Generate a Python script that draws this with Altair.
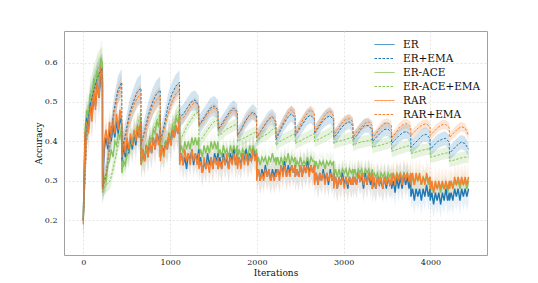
import altair as alt
import pandas as pd

TASK_LEN = 222
EMA_OFFSETS = [0, 44, 88, 133, 177, 221]
RAW_OFFSETS = [0, 20, 40, 60, 80, 100, 121, 141, 161, 181, 201, 221]

SERIES = ["ER", "ER+EMA", "ER-ACE", "ER-ACE+EMA", "RAR", "RAR+EMA"]
COLORS = ["#1f77b4", "#1f77b4", "#86c35a", "#86c35a", "#f77f2e", "#f77f2e"]
DASHES = [[1, 0], [2.5, 1.5], [1, 0], [2.5, 1.5], [1, 0], [2.5, 1.5]]

# ---- raw accuracy (12 readings per task, 20 tasks) ----
er_raw = [
    [0.20, 0.40, 0.46, 0.43, 0.50, 0.46, 0.52, 0.49, 0.55, 0.51, 0.57, 0.56],
    [0.28, 0.38, 0.41, 0.38, 0.43, 0.40, 0.44, 0.41, 0.45, 0.42, 0.46, 0.44],
    [0.35, 0.39, 0.36, 0.40, 0.37, 0.41, 0.38, 0.42, 0.39, 0.43, 0.41, 0.45],
    [0.35, 0.38, 0.35, 0.39, 0.36, 0.40, 0.37, 0.41, 0.38, 0.42, 0.40, 0.43],
    [0.36, 0.39, 0.37, 0.40, 0.38, 0.42, 0.39, 0.43, 0.41, 0.44, 0.42, 0.45],
    [0.35, 0.37, 0.34, 0.36, 0.33, 0.37, 0.35, 0.38, 0.34, 0.37, 0.35, 0.38],
    [0.34, 0.36, 0.32, 0.35, 0.33, 0.37, 0.34, 0.36, 0.33, 0.37, 0.35, 0.37],
    [0.33, 0.36, 0.33, 0.37, 0.34, 0.36, 0.33, 0.37, 0.35, 0.38, 0.34, 0.37],
    [0.34, 0.36, 0.34, 0.37, 0.35, 0.38, 0.34, 0.37, 0.35, 0.38, 0.36, 0.37],
    [0.31, 0.33, 0.30, 0.33, 0.31, 0.34, 0.31, 0.33, 0.30, 0.33, 0.31, 0.33],
    [0.31, 0.33, 0.31, 0.34, 0.32, 0.35, 0.31, 0.34, 0.32, 0.34, 0.32, 0.34],
    [0.31, 0.33, 0.31, 0.34, 0.31, 0.34, 0.32, 0.35, 0.32, 0.34, 0.32, 0.34],
    [0.30, 0.32, 0.29, 0.32, 0.30, 0.33, 0.30, 0.32, 0.29, 0.33, 0.30, 0.32],
    [0.29, 0.31, 0.28, 0.31, 0.29, 0.32, 0.29, 0.31, 0.28, 0.31, 0.29, 0.31],
    [0.29, 0.31, 0.29, 0.32, 0.30, 0.31, 0.28, 0.32, 0.29, 0.32, 0.29, 0.31],
    [0.28, 0.30, 0.28, 0.31, 0.29, 0.30, 0.28, 0.31, 0.28, 0.31, 0.29, 0.30],
    [0.28, 0.30, 0.27, 0.31, 0.28, 0.31, 0.28, 0.32, 0.29, 0.31, 0.28, 0.31],
    [0.26, 0.28, 0.25, 0.28, 0.26, 0.28, 0.25, 0.28, 0.26, 0.29, 0.26, 0.28],
    [0.25, 0.27, 0.24, 0.27, 0.25, 0.27, 0.24, 0.27, 0.25, 0.28, 0.25, 0.27],
    [0.25, 0.27, 0.25, 0.28, 0.26, 0.28, 0.25, 0.28, 0.26, 0.28, 0.26, 0.28],
]
erace_raw = [
    [0.20, 0.43, 0.48, 0.46, 0.52, 0.50, 0.56, 0.53, 0.58, 0.56, 0.61, 0.60],
    [0.27, 0.31, 0.30, 0.34, 0.35, 0.38, 0.36, 0.40, 0.39, 0.42, 0.41, 0.44],
    [0.32, 0.35, 0.34, 0.37, 0.37, 0.40, 0.39, 0.42, 0.41, 0.44, 0.43, 0.46],
    [0.34, 0.36, 0.36, 0.39, 0.38, 0.41, 0.40, 0.43, 0.42, 0.45, 0.44, 0.47],
    [0.36, 0.38, 0.37, 0.40, 0.39, 0.42, 0.41, 0.44, 0.43, 0.46, 0.45, 0.47],
    [0.37, 0.39, 0.37, 0.40, 0.38, 0.40, 0.38, 0.41, 0.39, 0.41, 0.39, 0.41],
    [0.36, 0.38, 0.36, 0.39, 0.37, 0.39, 0.37, 0.40, 0.38, 0.40, 0.38, 0.40],
    [0.36, 0.38, 0.36, 0.39, 0.37, 0.38, 0.36, 0.39, 0.37, 0.39, 0.37, 0.39],
    [0.36, 0.38, 0.36, 0.38, 0.37, 0.38, 0.36, 0.39, 0.37, 0.39, 0.37, 0.38],
    [0.34, 0.36, 0.34, 0.36, 0.35, 0.36, 0.34, 0.36, 0.35, 0.37, 0.35, 0.36],
    [0.34, 0.36, 0.34, 0.36, 0.34, 0.36, 0.35, 0.37, 0.34, 0.36, 0.35, 0.36],
    [0.33, 0.35, 0.34, 0.36, 0.34, 0.35, 0.34, 0.36, 0.34, 0.36, 0.35, 0.35],
    [0.33, 0.35, 0.33, 0.35, 0.34, 0.35, 0.33, 0.35, 0.34, 0.35, 0.34, 0.35],
    [0.31, 0.33, 0.31, 0.33, 0.31, 0.33, 0.32, 0.33, 0.31, 0.33, 0.32, 0.33],
    [0.31, 0.33, 0.31, 0.33, 0.32, 0.33, 0.31, 0.33, 0.32, 0.33, 0.31, 0.33],
    [0.30, 0.32, 0.31, 0.32, 0.30, 0.32, 0.31, 0.32, 0.30, 0.32, 0.31, 0.32],
    [0.30, 0.32, 0.30, 0.32, 0.31, 0.32, 0.30, 0.32, 0.31, 0.32, 0.30, 0.32],
    [0.29, 0.31, 0.29, 0.31, 0.30, 0.31, 0.29, 0.31, 0.30, 0.31, 0.29, 0.31],
    [0.27, 0.29, 0.27, 0.29, 0.28, 0.29, 0.27, 0.29, 0.28, 0.29, 0.27, 0.29],
    [0.28, 0.30, 0.28, 0.30, 0.29, 0.30, 0.28, 0.30, 0.29, 0.30, 0.28, 0.30],
]
rar_raw = [
    [0.19, 0.42, 0.45, 0.42, 0.49, 0.45, 0.53, 0.48, 0.55, 0.51, 0.59, 0.55],
    [0.29, 0.40, 0.43, 0.39, 0.45, 0.41, 0.46, 0.42, 0.47, 0.43, 0.48, 0.45],
    [0.36, 0.40, 0.37, 0.41, 0.38, 0.42, 0.39, 0.43, 0.40, 0.44, 0.41, 0.45],
    [0.34, 0.38, 0.35, 0.39, 0.36, 0.40, 0.37, 0.41, 0.38, 0.42, 0.39, 0.43],
    [0.35, 0.39, 0.36, 0.40, 0.38, 0.42, 0.39, 0.43, 0.41, 0.44, 0.42, 0.46],
    [0.34, 0.37, 0.34, 0.38, 0.35, 0.37, 0.34, 0.38, 0.35, 0.37, 0.34, 0.37],
    [0.33, 0.35, 0.32, 0.36, 0.33, 0.35, 0.32, 0.36, 0.33, 0.36, 0.34, 0.36],
    [0.33, 0.35, 0.33, 0.36, 0.34, 0.37, 0.33, 0.36, 0.34, 0.37, 0.34, 0.37],
    [0.33, 0.36, 0.33, 0.37, 0.34, 0.37, 0.34, 0.36, 0.35, 0.38, 0.35, 0.37],
    [0.30, 0.33, 0.30, 0.32, 0.30, 0.33, 0.31, 0.33, 0.30, 0.32, 0.30, 0.32],
    [0.31, 0.33, 0.30, 0.34, 0.31, 0.34, 0.31, 0.33, 0.31, 0.34, 0.32, 0.34],
    [0.31, 0.33, 0.31, 0.34, 0.31, 0.34, 0.32, 0.34, 0.31, 0.34, 0.32, 0.34],
    [0.29, 0.32, 0.29, 0.32, 0.30, 0.32, 0.29, 0.32, 0.30, 0.32, 0.30, 0.32],
    [0.28, 0.31, 0.28, 0.31, 0.29, 0.31, 0.28, 0.31, 0.29, 0.31, 0.29, 0.31],
    [0.29, 0.31, 0.29, 0.32, 0.30, 0.32, 0.29, 0.31, 0.29, 0.32, 0.30, 0.32],
    [0.28, 0.31, 0.28, 0.31, 0.29, 0.31, 0.28, 0.31, 0.29, 0.31, 0.29, 0.31],
    [0.29, 0.32, 0.29, 0.32, 0.30, 0.32, 0.29, 0.32, 0.30, 0.32, 0.30, 0.32],
    [0.29, 0.32, 0.29, 0.32, 0.30, 0.32, 0.29, 0.31, 0.29, 0.32, 0.30, 0.31],
    [0.28, 0.30, 0.27, 0.30, 0.28, 0.30, 0.28, 0.30, 0.28, 0.30, 0.28, 0.30],
    [0.28, 0.30, 0.28, 0.31, 0.29, 0.31, 0.29, 0.31, 0.29, 0.31, 0.29, 0.31],
]

# ---- EMA accuracy (6 readings per task, 20 tasks) ----
er_ema = [
    [0.20, 0.44, 0.50, 0.54, 0.57, 0.585],
    [0.28, 0.32, 0.40, 0.48, 0.53, 0.55],
    [0.37, 0.42, 0.47, 0.50, 0.525, 0.535],
    [0.39, 0.43, 0.47, 0.50, 0.52, 0.53],
    [0.40, 0.44, 0.49, 0.52, 0.54, 0.55],
    [0.46, 0.47, 0.485, 0.50, 0.505, 0.49],
    [0.44, 0.455, 0.47, 0.485, 0.49, 0.48],
    [0.43, 0.445, 0.46, 0.475, 0.485, 0.475],
    [0.415, 0.43, 0.45, 0.465, 0.475, 0.465],
    [0.41, 0.425, 0.44, 0.455, 0.463, 0.45],
    [0.405, 0.425, 0.445, 0.46, 0.47, 0.46],
    [0.415, 0.43, 0.445, 0.46, 0.467, 0.455],
    [0.42, 0.435, 0.45, 0.46, 0.465, 0.455],
    [0.41, 0.42, 0.435, 0.445, 0.45, 0.44],
    [0.405, 0.415, 0.43, 0.44, 0.44, 0.43],
    [0.40, 0.41, 0.42, 0.43, 0.432, 0.422],
    [0.395, 0.405, 0.415, 0.423, 0.425, 0.415],
    [0.385, 0.395, 0.405, 0.415, 0.418, 0.408],
    [0.38, 0.39, 0.40, 0.405, 0.408, 0.398],
    [0.37, 0.38, 0.39, 0.398, 0.395, 0.38],
]
erace_ema = [
    [0.20, 0.45, 0.52, 0.56, 0.59, 0.60],
    [0.28, 0.29, 0.30, 0.34, 0.39, 0.43],
    [0.33, 0.35, 0.38, 0.41, 0.44, 0.47],
    [0.36, 0.37, 0.39, 0.42, 0.45, 0.47],
    [0.38, 0.39, 0.41, 0.43, 0.46, 0.48],
    [0.40, 0.42, 0.44, 0.455, 0.47, 0.475],
    [0.40, 0.41, 0.425, 0.44, 0.45, 0.455],
    [0.415, 0.42, 0.43, 0.435, 0.44, 0.445],
    [0.40, 0.405, 0.41, 0.415, 0.42, 0.425],
    [0.40, 0.41, 0.415, 0.42, 0.43, 0.435],
    [0.39, 0.40, 0.405, 0.41, 0.415, 0.42],
    [0.395, 0.40, 0.405, 0.41, 0.415, 0.42],
    [0.40, 0.405, 0.41, 0.415, 0.42, 0.43],
    [0.395, 0.40, 0.402, 0.405, 0.408, 0.41],
    [0.39, 0.395, 0.398, 0.40, 0.402, 0.405],
    [0.385, 0.388, 0.39, 0.393, 0.396, 0.40],
    [0.375, 0.378, 0.382, 0.385, 0.388, 0.39],
    [0.37, 0.372, 0.375, 0.378, 0.38, 0.382],
    [0.36, 0.362, 0.365, 0.368, 0.37, 0.372],
    [0.35, 0.352, 0.355, 0.358, 0.36, 0.36],
]
rar_ema = [
    [0.20, 0.43, 0.49, 0.53, 0.56, 0.58],
    [0.28, 0.32, 0.40, 0.47, 0.52, 0.545],
    [0.37, 0.41, 0.46, 0.49, 0.51, 0.52],
    [0.39, 0.42, 0.46, 0.49, 0.505, 0.515],
    [0.40, 0.43, 0.47, 0.50, 0.52, 0.53],
    [0.455, 0.46, 0.475, 0.49, 0.50, 0.49],
    [0.44, 0.45, 0.465, 0.48, 0.485, 0.475],
    [0.43, 0.44, 0.455, 0.47, 0.48, 0.47],
    [0.415, 0.43, 0.45, 0.465, 0.47, 0.46],
    [0.41, 0.425, 0.44, 0.455, 0.463, 0.45],
    [0.41, 0.43, 0.45, 0.47, 0.48, 0.47],
    [0.42, 0.435, 0.455, 0.47, 0.48, 0.47],
    [0.425, 0.44, 0.455, 0.47, 0.477, 0.465],
    [0.415, 0.43, 0.445, 0.455, 0.458, 0.45],
    [0.41, 0.425, 0.435, 0.445, 0.45, 0.44],
    [0.41, 0.42, 0.435, 0.445, 0.447, 0.44],
    [0.41, 0.42, 0.435, 0.443, 0.445, 0.437],
    [0.415, 0.425, 0.435, 0.442, 0.445, 0.437],
    [0.415, 0.425, 0.435, 0.442, 0.443, 0.435],
    [0.41, 0.42, 0.43, 0.437, 0.435, 0.415],
]

# ---- half-width of the shaded spread, per task ----
er_raw_sd = [0.05, 0.04, 0.04, 0.04, 0.04] + [0.035] * 15
erace_raw_sd = [0.05, 0.035, 0.035, 0.035, 0.035] + [0.025] * 15
rar_raw_sd = [0.05, 0.04, 0.04, 0.04, 0.04] + [0.035] * 15
er_ema_sd = [0.04, 0.035, 0.035, 0.035, 0.03, 0.025, 0.025, 0.02, 0.02, 0.02,
             0.02, 0.02, 0.02, 0.018, 0.018, 0.018, 0.018, 0.018, 0.018, 0.018]
erace_ema_sd = [0.04, 0.02, 0.02, 0.02, 0.02] + [0.015] * 15
rar_ema_sd = [0.035, 0.025, 0.025, 0.025, 0.02] + [0.012] * 15

rows = []
def add(name, kind, values, sds, offsets):
    for t, (task_vals, sd) in enumerate(zip(values, sds)):
        for off, v in zip(offsets, task_vals):
            rows.append({"it": t * TASK_LEN + off, "acc": v, "lo": v - sd,
                         "hi": v + sd, "series": name, "kind": kind})

add("ER", "raw", er_raw, er_raw_sd, RAW_OFFSETS)
add("ER-ACE", "raw", erace_raw, erace_raw_sd, RAW_OFFSETS)
add("RAR", "raw", rar_raw, rar_raw_sd, RAW_OFFSETS)
add("ER+EMA", "ema", er_ema, er_ema_sd, EMA_OFFSETS)
add("ER-ACE+EMA", "ema", erace_ema, erace_ema_sd, EMA_OFFSETS)
add("RAR+EMA", "ema", rar_ema, rar_ema_sd, EMA_OFFSETS)
df = pd.DataFrame(rows)
COLOR_OF = dict(zip(SERIES, COLORS))

FONT = "DejaVu Serif"
xs = alt.Scale(domain=[-222, 4651], nice=False, zero=False)
ys = alt.Scale(domain=[0.112, 0.68], nice=False, zero=False)
x = alt.X("it:Q", scale=xs, title="Iterations",
          axis=alt.Axis(values=[0, 1000, 2000, 3000, 4000], format="d",
                        labelPadding=3, titlePadding=2))
y = alt.Y("acc:Q", scale=ys, title="Accuracy",
          axis=alt.Axis(values=[0.2, 0.3, 0.4, 0.5, 0.6], format=".1f",
                        labelPadding=7, titlePadding=1))

LEG = alt.Legend(orient="none", legendX=299, legendY=2,
                 symbolType="M0,0H4", symbolSize=100,
                 symbolStrokeWidth=1.0, labelOffset=23,
                 rowPadding=3, padding=6,
                 labelFont=FONT, labelFontSize=10.5, labelColor="#111")
color = alt.Color("series:N", title=None,
                  scale=alt.Scale(domain=SERIES, range=COLORS), legend=LEG)
dash = alt.StrokeDash("series:N", title=None,
                      scale=alt.Scale(domain=SERIES, range=DASHES), legend=LEG)

base = alt.Chart(df)

def band_layer(name, op):
    return base.transform_filter(f"datum.series == '{name}'").mark_area(
        opacity=op, color=COLOR_OF[name]).encode(
        x=x, y=alt.Y("lo:Q", scale=ys), y2="hi:Q")

def line_layer(name, width):
    return base.transform_filter(f"datum.series == '{name}'").mark_line(
        strokeWidth=width).encode(x=x, y=y, color=color, strokeDash=dash)

layers = [band_layer("ER-ACE", 0.1), band_layer("ER", 0.1), band_layer("RAR", 0.1),
          band_layer("ER-ACE+EMA", 0.2), band_layer("ER+EMA", 0.2),
          band_layer("RAR+EMA", 0.2),
          line_layer("ER-ACE", 1.4), line_layer("ER", 1.4), line_layer("RAR", 1.4),
          line_layer("ER-ACE+EMA", 1.0), line_layer("ER+EMA", 1.0),
          line_layer("RAR+EMA", 1.0)]

chart = alt.layer(*layers).properties(
    width=423, height=224,
    autosize=alt.AutoSizeParams(type="none"),
    padding={"left": 56, "top": 23, "right": 35, "bottom": 25},
).configure_view(stroke="#a0a0a0", strokeWidth=1).configure_axis(
    grid=True, gridColor="#dddddd", gridDash=[2, 2], gridWidth=0.8,
    domain=False, ticks=False,
    labelFont=FONT, labelFontSize=8, labelColor="#222",
    titleFont=FONT, titleFontSize=9, titleFontWeight="normal", titleColor="#111",
)

chart.save("out.html", embed_options={"renderer": "svg", "actions": False})
